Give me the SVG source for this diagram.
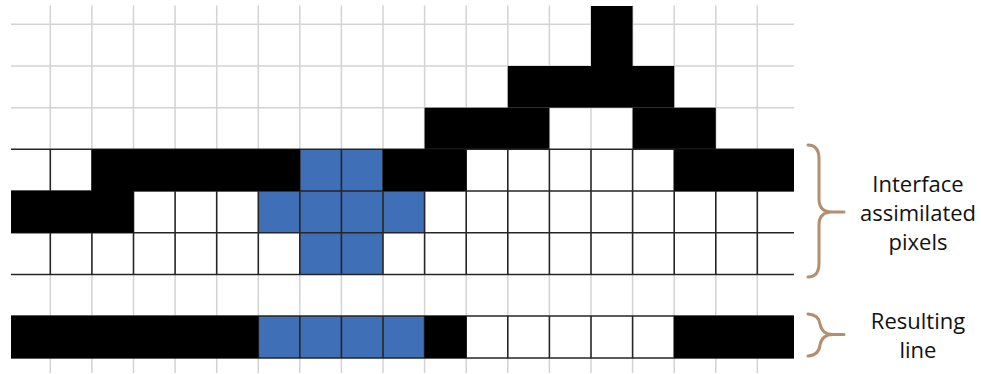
<svg xmlns="http://www.w3.org/2000/svg" width="981" height="374" viewBox="0 0 981 374">
<style>
.gray{stroke:#d3d3d3;stroke-width:1.5;fill:none}
.dark{stroke:#262626;stroke-width:1.6;fill:none}
.blk{fill:#000}
.blu{fill:#3f6fb6}
.brace{stroke:#b48e6e;stroke-width:3;fill:none;stroke-linecap:round}
.lbl{font-family:"Open Sans","Liberation Sans",sans-serif;font-size:22px;fill:#111;text-anchor:middle}
</style>
<rect width="981" height="374" fill="#fff"/>
<g id="gray-grid" class="gray">
<path d="M50.3,5.5V149.3M91.9,5.5V149.3M133.5,5.5V149.3M175.1,5.5V149.3M216.7,5.5V149.3M258.3,5.5V149.3M299.8,5.5V149.3M341.4,5.5V149.3M383,5.5V149.3M424.6,5.5V149.3M466.2,5.5V149.3M507.8,5.5V149.3M549.4,5.5V149.3M591,5.5V149.3M632.6,5.5V149.3M674.2,5.5V149.3M715.8,5.5V149.3M757.3,5.5V149.3"/>
<path d="M50.3,274.5V316M91.9,274.5V316M133.5,274.5V316M175.1,274.5V316M216.7,274.5V316M258.3,274.5V316M299.8,274.5V316M341.4,274.5V316M383,274.5V316M424.6,274.5V316M466.2,274.5V316M507.8,274.5V316M549.4,274.5V316M591,274.5V316M632.6,274.5V316M674.2,274.5V316M715.8,274.5V316M757.3,274.5V316"/>
<path d="M50.3,358V373M91.9,358V373M133.5,358V373M175.1,358V373M216.7,358V373M258.3,358V373M299.8,358V373M341.4,358V373M383,358V373M424.6,358V373M466.2,358V373M507.8,358V373M549.4,358V373M591,358V373M632.6,358V373M674.2,358V373M715.8,358V373M757.3,358V373"/>
<path d="M11,24.3H794M11,66H794M11,107.7H794"/>
</g>
<g id="upper-shape">
<rect class="blk" x="591" y="6" width="41.6" height="60"/>
<rect class="blk" x="507.8" y="66" width="166.4" height="41.7"/>
<rect class="blk" x="424.6" y="107.7" width="124.8" height="41.6"/>
<rect class="blk" x="632.6" y="107.7" width="83.2" height="41.6"/>
</g>
<g id="blue-pixels">
<rect class="blu" x="299.8" y="149.3" width="83.2" height="41.7"/>
<rect class="blu" x="258.3" y="191" width="166.3" height="41.8"/>
<rect class="blu" x="299.8" y="232.8" width="83.2" height="41.7"/>
<rect class="blu" x="258.3" y="316" width="166.3" height="42"/>
</g>
<g id="dark-grid" class="dark">
<path d="M11,149.3H794M11,191H794M11,232.8H794M11,274.5H794M11,316H794M11,358H794"/>
<path d="M50.3,149.3V274.5M91.9,149.3V274.5M133.5,149.3V274.5M175.1,149.3V274.5M216.7,149.3V274.5M258.3,149.3V274.5M299.8,149.3V274.5M341.4,149.3V274.5M383,149.3V274.5M424.6,149.3V274.5M466.2,149.3V274.5M507.8,149.3V274.5M549.4,149.3V274.5M591,149.3V274.5M632.6,149.3V274.5M674.2,149.3V274.5M715.8,149.3V274.5M757.3,149.3V274.5"/>
<path d="M50.3,316V358M91.9,316V358M133.5,316V358M175.1,316V358M216.7,316V358M258.3,316V358M299.8,316V358M341.4,316V358M383,316V358M424.6,316V358M466.2,316V358M507.8,316V358M549.4,316V358M591,316V358M632.6,316V358M674.2,316V358M715.8,316V358M757.3,316V358"/>
</g>
<g id="interface-pixels">
<rect class="blk" x="91.9" y="149.3" width="207.9" height="41.7"/>
<rect class="blk" x="383" y="149.3" width="83.2" height="41.7"/>
<rect class="blk" x="674.2" y="149.3" width="119.8" height="41.7"/>
<rect class="blk" x="11" y="191" width="122.5" height="41.8"/>
</g>
<g id="resulting-line">
<rect class="blk" x="11" y="316" width="247.3" height="42"/>
<rect class="blk" x="424.6" y="316" width="41.6" height="42"/>
<rect class="blk" x="674.2" y="316" width="119.8" height="42"/>
</g>
<g id="brace-interface">
<path class="brace" d="M808,145 Q819,145 819,159 L819,199 Q819,212 832,212 L844,212 M832,212 Q819,212 819,225 L819,263 Q819,277 808,277"/>
<text class="lbl" x="918" y="191.5">Interface</text>
<text class="lbl" x="918" y="221">assimilated</text>
<text class="lbl" x="918" y="250">pixels</text>
</g>
<g id="brace-result">
<path class="brace" d="M808,314 Q819,315 820,324 Q822,334.5 833,334.5 L844,334.5 M833,334.5 Q822,334.5 820,345 Q819,355 808,356"/>
<text class="lbl" x="918" y="328.5">Resulting</text>
<text class="lbl" x="918" y="358">line</text>
</g>
</svg>
